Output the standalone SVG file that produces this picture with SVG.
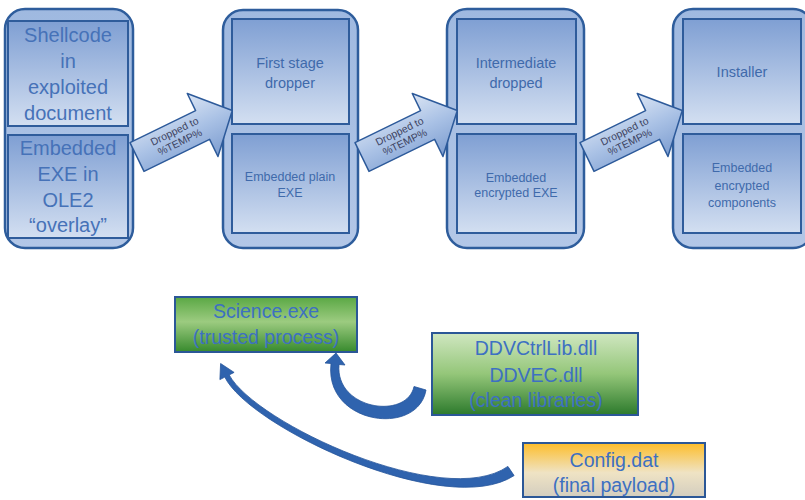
<svg xmlns="http://www.w3.org/2000/svg" width="805" height="500" viewBox="0 0 805 500">
<defs>
<linearGradient id="gInner" x1="0" y1="0" x2="0" y2="1"><stop offset="0" stop-color="#7f9fd3"/><stop offset="1" stop-color="#d3dff1"/></linearGradient>
<linearGradient id="gOuter" x1="0" y1="0" x2="0" y2="1"><stop offset="0" stop-color="#9fb9e0"/><stop offset="1" stop-color="#b3c7e7"/></linearGradient>
<linearGradient id="gArrow" x1="0" y1="0" x2="0" y2="1"><stop offset="0" stop-color="#dbe5f4"/><stop offset="0.5" stop-color="#a9c1e5"/><stop offset="1" stop-color="#7d9dd0"/></linearGradient>
<linearGradient id="gSci" x1="0" y1="0" x2="0" y2="1"><stop offset="0" stop-color="#5aa844"/><stop offset="0.45" stop-color="#9ccb80"/><stop offset="1" stop-color="#378a2d"/></linearGradient>
<linearGradient id="gDdv" x1="0" y1="0" x2="0" y2="1"><stop offset="0" stop-color="#d0e7c1"/><stop offset="0.5" stop-color="#94c679"/><stop offset="1" stop-color="#2c7a2c"/></linearGradient>
<linearGradient id="gCfg" x1="0" y1="0" x2="0" y2="1"><stop offset="0" stop-color="#fdbd2a"/><stop offset="0.55" stop-color="#efe3c4"/><stop offset="1" stop-color="#d3cdbf"/></linearGradient>
</defs>
<style>
.outer{fill:url(#gOuter);stroke:#2e5d9c;stroke-width:2.5}
.inner{fill:url(#gInner);stroke:#2f5c9b;stroke-width:2}
.t1{font-family:"Liberation Sans",Arial,sans-serif;font-size:20px;fill:#4672b8;text-anchor:middle}
.t2{font-family:"Liberation Sans",Arial,sans-serif;font-size:14.5px;fill:#3f6aab;text-anchor:middle}
.t3{font-family:"Liberation Sans",Arial,sans-serif;font-size:12.5px;fill:#3f6aab;text-anchor:middle}
.ta{font-family:"Liberation Sans",Arial,sans-serif;font-size:10.5px;fill:#3c4260;text-anchor:middle}
.tb{font-family:"Liberation Sans",Arial,sans-serif;font-size:19.5px;fill:#3d70c2;text-anchor:middle}
.blk{fill:url(#gArrow);stroke:#2d5a9a;stroke-width:1.5;stroke-linejoin:round}
.curve{fill:#2f63ae;stroke:#24549a;stroke-width:0.8}
.box{stroke:#2b5797;stroke-width:2}
</style>
<rect width="805" height="500" fill="#ffffff"/>

<g id="col1">
<rect class="outer" x="5" y="9" width="128" height="239" rx="20"/>
<rect class="inner" x="8" y="21" width="120" height="105"/>
<rect class="inner" x="8" y="135" width="120" height="103"/>
<text class="t1" x="68" y="42">Shellcode</text>
<text class="t1" x="68" y="68">in</text>
<text class="t1" x="68" y="94">exploited</text>
<text class="t1" x="68" y="120">document</text>
<text class="t1" x="68" y="155">Embedded</text>
<text class="t1" x="68" y="181">EXE in</text>
<text class="t1" x="68" y="207">OLE2</text>
<text class="t1" x="68" y="232">“overlay”</text>
</g>

<g id="col2">
<rect class="outer" x="223" y="10" width="135" height="238" rx="20"/>
<rect class="inner" x="232" y="19" width="117" height="105"/>
<rect class="inner" x="232" y="134" width="117" height="99"/>
<text class="t2" x="290" y="68">First stage</text>
<text class="t2" x="290" y="88">dropper</text>
<text class="t3" x="290" y="181">Embedded plain</text>
<text class="t3" x="290" y="197">EXE</text>
</g>

<g id="col3">
<rect class="outer" x="447" y="9" width="137" height="239" rx="20"/>
<rect class="inner" x="457" y="19" width="119" height="105"/>
<rect class="inner" x="457" y="134" width="119" height="99"/>
<text class="t2" x="516" y="68">Intermediate</text>
<text class="t2" x="516" y="88">dropped</text>
<text class="t3" x="516" y="182">Embedded</text>
<text class="t3" x="516" y="197">encrypted EXE</text>
</g>

<g id="col4">
<rect class="outer" x="673" y="9" width="140" height="239" rx="20"/>
<rect class="inner" x="683" y="19" width="118" height="105"/>
<rect class="inner" x="683" y="134" width="118" height="99"/>
<text class="t2" x="742" y="77">Installer</text>
<text class="t3" x="742" y="172">Embedded</text>
<text class="t3" x="742" y="190">encrypted</text>
<text class="t3" x="742" y="207">components</text>
</g>

<g id="science">
<rect class="box" x="175" y="297" width="182" height="55" fill="url(#gSci)"/>
<text class="tb" x="266" y="318">Science.exe</text>
<text class="tb" x="266" y="344">(trusted process)</text>
</g>

<g id="ddv">
<rect class="box" x="432" y="333" width="206" height="82" fill="url(#gDdv)"/>
<text class="tb" x="536" y="355">DDVCtrlLib.dll</text>
<text class="tb" x="536" y="382">DDVEC.dll</text>
<text class="tb" x="536" y="407">(clean libraries)</text>
</g>

<g id="config">
<rect class="box" x="523" y="443" width="182" height="54" fill="url(#gCfg)"/>
<text class="tb" x="614" y="467">Config.dat</text>
<text class="tb" x="614" y="492">(final payload)</text>
</g>

<g id="connectors">
<g transform="translate(137,157) rotate(-26)">
<path class="blk" d="M0,-16 L73,-16 L73,-35 L106,0 L73,35 L73,16 L0,16 Z"/>
<text class="ta" x="45" y="-3">Dropped to</text>
<text class="ta" x="45" y="9">%TEMP%</text>
</g>
<g transform="translate(362,157) rotate(-26)">
<path class="blk" d="M0,-16 L73,-16 L73,-35 L106,0 L73,35 L73,16 L0,16 Z"/>
<text class="ta" x="45" y="-3">Dropped to</text>
<text class="ta" x="45" y="9">%TEMP%</text>
</g>
<g transform="translate(587,157) rotate(-26)">
<path class="blk" d="M0,-16 L73,-16 L73,-35 L106,0 L73,35 L73,16 L0,16 Z"/>
<text class="ta" x="45" y="-3">Dropped to</text>
<text class="ta" x="45" y="9">%TEMP%</text>
</g>
<path class="curve" d="M336,353 L345,365 L339,364.5 C335,410 407,420 414,386.5 L426,390 C418,437 324,425 331,363.5 L325,363 Z"/>
<path class="curve" d="M220.6,363.5 L234.1,372.4 L229.2,374.9 C255,423 444,511 507.9,466.4 L514.1,475.6 C446,520 249,427 224.8,377.1 L219.9,379.6 Z"/>
</g>
</svg>
